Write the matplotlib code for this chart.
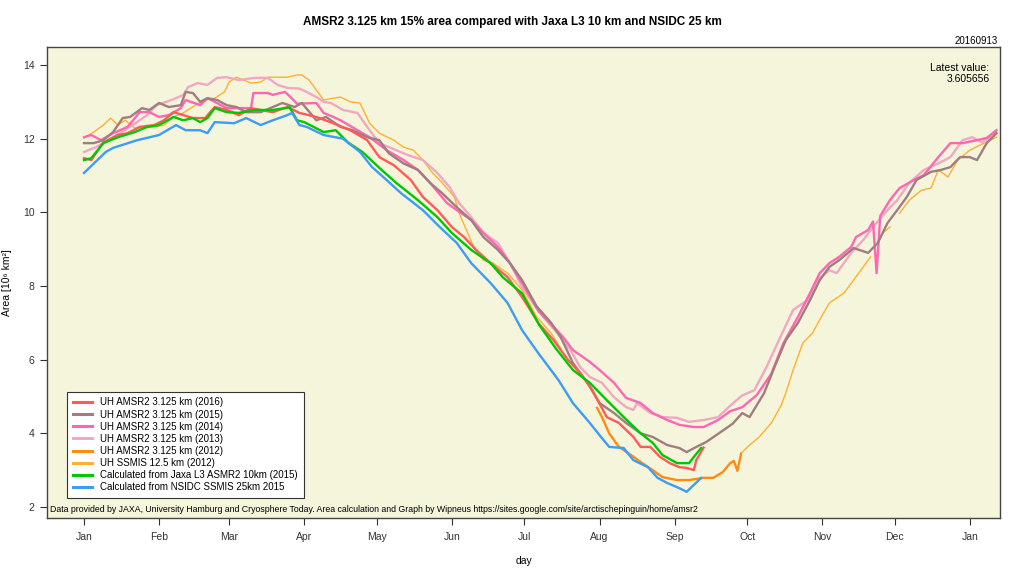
import numpy as np
import matplotlib
matplotlib.use("Agg")
import matplotlib.pyplot as plt

plt.rcParams['font.family'] = ['Liberation Sans', 'DejaVu Sans']

# ---------------- data (day of year, 0 = Jan 1) ----------------
month_ticks = [0, 31, 60, 91, 121, 152, 182, 213, 244, 274, 305, 335, 366]
month_labels = ["Jan", "Feb", "Mar", "Apr", "May", "Jun", "Jul", "Aug", "Sep", "Oct", "Nov", "Dec", "Jan"]
y_ticks = [2, 4, 6, 8, 10, 12, 14]

ssmis2012_days = [0, 4, 8, 11, 14, 17, 21, 25, 29, 33, 37, 41, 46, 50, 54, 58, 60, 63, 66, 69, 73, 76, 80, 84, 88, 90,
                  93, 96, 99, 103, 106, 110, 114, 118, 122, 128, 132, 136, 140, 144, 148, 153, 155, 158, 161, 165, 169,
                  175, 181, 187, 193, 197, 230,
                  272, 275, 279, 284, 288, 290, 293, 297, 301, 304, 308, 314, 318, 322, 325, 327, 330, 333, 335,
                  337, 341, 346, 350, 353, 357, 361, 366, 372, 377]
ssmis2012_vals = [12.02, 12.18, 12.37, 12.56, 12.37, 12.5, 12.29, 12.29, 12.32, 12.37, 12.59, 12.7, 12.91, 13.05, 13.1,
                  13.27, 13.54, 13.67, 13.59, 13.51, 13.54, 13.67, 13.67, 13.67, 13.73, 13.73, 13.59, 13.32, 13.05,
                  13.1, 13.13, 13.0, 12.97, 12.42, 12.15, 11.96, 11.77, 11.69, 11.42, 11.07, 10.8, 10.42, 9.98, 9.52,
                  9.06, 8.7, 8.62, 8.35, 7.89, 7.16, 6.72, 6.3, np.nan,
                  3.49, 3.68, 3.9, 4.28, 4.75, 5.1, 5.72, 6.45, 6.72, 7.08, 7.54, 7.81, 8.16, 8.52, 8.79, np.nan,
                  9.44, 9.6, np.nan, 9.98, 10.33, 10.6, 10.66, 11.15, 10.96, 11.42, 11.69, 11.88, 12.04]

amsr2013_days = [0, 5, 12, 19, 26, 30, 34, 38, 41, 43, 47, 51, 55, 59, 64, 70, 76, 80, 84, 89, 92, 96, 99, 102, 107, 113,
                 117, 122, 126, 134, 140, 146, 151, 155, 160, 165, 171, 176, 181, 188, 196, 201, 205, 209, 214, 219,
                 224, 227, 228.5, 234, 239, 245, 250, 256, 262, 267, 272, 277, 282, 288, 293, 299, 303, 308, 311,
                 317, 322, 326, 332, 336, 341, 347, 353, 358, 363, 367, 371, 377]
amsr2013_vals = [11.64, 11.77, 12.04, 12.32, 12.64, 12.91, 13.0, 13.1, 13.19, 13.4, 13.51, 13.46, 13.65, 13.67, 13.59,
                 13.65, 13.65, 13.46, 13.38, 13.36, 13.27, 13.13, 13.0, 12.97, 12.78, 12.7, 12.32, 11.88, 11.77,
                 11.55, 11.42, 11.07, 10.69, 10.25, 9.87, 9.44, 9.17, 8.62, 7.97, 7.3, 6.68, 6.26, 5.8, 5.53, 5.37,
                 4.98, 4.71, 4.63, 4.82, 4.55, 4.44, 4.42, 4.31, 4.36, 4.44, 4.75, 5.03, 5.17, 5.8, 6.65, 7.35, 7.62,
                 8.16, 8.43, 8.35, 8.9, 9.25, 9.6, 10.06, 10.33, 10.8, 11.15, 11.33, 11.5, 11.96, 12.04, 11.9, 12.15]

amsr2014_days = [0, 3, 7, 12, 18, 23, 27, 31, 35, 40, 42, 48, 51, 54, 59, 64, 69, 70, 76, 78, 83, 85, 88, 96, 99, 103,
                 106, 113, 118, 125, 132, 138, 143, 150, 154, 160, 165, 171, 176, 181, 188, 194, 198, 202, 209, 213,
                 219, 224, 230, 235, 241, 246, 252, 256, 262, 267, 272, 278, 284, 289, 295, 300, 304, 308, 312, 317,
                 319, 324, 326, 327.5, 329, 333, 337, 343, 347, 353, 358, 363, 369, 373, 377]
amsr2014_vals = [12.04, 12.1, 11.96, 12.15, 12.32, 12.72, 12.72, 12.59, 12.64, 12.83, 13.05, 12.91, 13.1, 13.0, 12.83,
                 12.83, 12.83, 13.24, 13.24, 13.19, 13.27, 13.15, 12.95, 12.97, 12.7, 12.59, 12.5, 12.23, 12.04,
                 11.69, 11.42, 11.15, 10.8, 10.25, 10.06, 9.79, 9.44, 9.06, 8.62, 8.08, 7.3, 6.89, 6.61, 6.26, 5.94,
                 5.72, 5.37, 4.96, 4.82, 4.55, 4.36, 4.23, 4.17, 4.17, 4.36, 4.6, 4.71, 5.04, 5.62, 6.45, 7.16, 7.81,
                 8.35, 8.62, 8.79, 9.06, 9.33, 9.52, 9.75, 8.35, 9.9, 10.33, 10.66, 10.88, 11.01, 11.5, 11.88, 11.88,
                 11.96, 12.02, 12.23]

amsr2015_days = [0, 4, 8, 12, 16, 19, 24, 27, 31, 35, 40, 42, 45, 48, 51, 55, 59, 63, 67, 73, 78, 82, 87, 90, 96, 100,
                 106, 111, 117, 122, 126, 132, 138, 143, 148, 154, 160, 165, 171, 176, 181, 187, 193, 197, 202, 208,
                 213, 219, 224, 230, 235, 241, 246, 249, 253, 257, 263, 268, 272, 275, 281, 286, 290, 295, 300, 304,
                 308, 312, 318, 324, 328, 332, 336, 340, 344, 350, 354, 358, 362, 366, 369, 373, 377]
amsr2015_vals = [11.88, 11.88, 11.96, 12.18, 12.56, 12.59, 12.83, 12.78, 12.97, 12.86, 12.91, 13.27, 13.24, 13.0, 13.1,
                 13.05, 12.91, 12.86, 12.72, 12.72, 12.86, 12.97, 12.86, 12.97, 12.5, 12.59, 12.32, 12.23, 12.04,
                 11.96, 11.6, 11.33, 11.15, 10.8, 10.52, 10.14, 9.79, 9.33, 8.98, 8.62, 8.16, 7.45, 7.0, 6.61, 5.91,
                 5.37, 4.82, 4.55, 4.28, 4.0, 3.9, 3.68, 3.6, 3.49, 3.63, 3.76, 4.03, 4.26, 4.55, 4.44, 5.09, 5.91,
                 6.53, 7.0, 7.62, 8.16, 8.52, 8.7, 9.03, 8.9, 9.17, 9.71, 10.06, 10.42, 10.88, 11.1, 11.15, 11.23,
                 11.5, 11.5, 11.42, 11.88, 12.15]

amsr2012_days = [212, 214, 217, 221, 226, 230, 235, 239, 245, 250, 256, 260, 264, 267, 268.5, 270, 271.5]
amsr2012_vals = [4.69, 4.44, 4.0, 3.63, 3.41, 3.22, 3.0, 2.81, 2.73, 2.73, 2.79, 2.79, 2.95, 3.19, 3.25, 2.98, 3.45]

amsr2016_days = [0, 3, 8, 14, 18, 23, 29, 33, 37, 41, 45, 50, 54, 59, 64, 69, 73, 78, 84, 89, 96, 103, 110, 117, 122,
                 128, 135, 140, 146, 152, 157, 162, 168, 175, 181, 188, 194, 200, 205, 210, 216, 221, 227, 230, 234,
                 238, 242, 246, 249, 252, 253, 256]
amsr2016_vals = [11.47, 11.42, 11.9, 12.1, 12.15, 12.32, 12.37, 12.5, 12.72, 12.64, 12.56, 12.56, 12.86, 12.78, 12.64,
                 12.83, 12.78, 12.72, 12.86, 12.7, 12.59, 12.42, 12.23, 11.96, 11.5, 11.28, 10.88, 10.42, 10.06, 9.6,
                 9.33, 8.98, 8.62, 8.24, 7.7, 6.97, 6.53, 5.99, 5.64, 5.18, 4.44, 4.28, 3.9, 3.63, 3.63, 3.36, 3.19,
                 3.08, 3.06, 3.0, 3.27, 3.61]

jaxa2015_days = [0, 3, 8, 14, 21, 26, 31, 37, 41, 45, 48, 51, 54, 59, 64, 70, 78, 85, 88, 91, 99, 104, 109, 115, 123,
                 129, 138, 146, 152, 160, 168, 173, 181, 188, 195, 202, 209, 216, 223, 230, 235, 239, 245, 250, 252,
                 255]
jaxa2015_vals = [11.42, 11.47, 11.88, 12.04, 12.18, 12.32, 12.37, 12.59, 12.5, 12.56, 12.45, 12.56, 12.83, 12.72, 12.7,
                 12.78, 12.78, 12.85, 12.5, 12.45, 12.18, 12.23, 11.9, 11.64, 11.15, 10.8, 10.33, 9.87, 9.44, 8.98,
                 8.62, 8.24, 7.8, 6.95, 6.3, 5.72, 5.37, 4.9, 4.44, 4.0, 3.74, 3.41, 3.19, 3.19, 3.36, 3.6]

nsidc2015_days = [0, 9, 12, 22, 31, 38, 42, 48, 51, 54, 62, 67, 73, 78, 84, 86, 89, 92, 99, 107, 114, 119, 125, 131,
                  140, 147, 154, 160, 168, 175, 181, 188, 196, 202, 209, 213, 217, 223, 227, 233, 237, 241, 246, 249,
                  252, 255]
nsidc2015_vals = [11.07, 11.64, 11.75, 11.96, 12.1, 12.37, 12.23, 12.23, 12.15, 12.45, 12.42, 12.56, 12.37, 12.5,
                  12.64, 12.7, 12.37, 12.32, 12.1, 12.0, 11.64, 11.23, 10.88, 10.52, 10.06, 9.6, 9.17, 8.62, 8.08,
                  7.54, 6.8, 6.15, 5.45, 4.82, 4.28, 3.95, 3.63, 3.6, 3.27, 3.08, 2.79, 2.65, 2.51, 2.41, 2.6, 2.79]

series_labels = ["UH AMSR2 3.125 km (2016)", "UH AMSR2 3.125 km (2015)", "UH AMSR2 3.125 km (2014)",
                 "UH AMSR2 3.125 km (2013)", "UH AMSR2 3.125 km (2012)", "UH SSMIS 12.5 km (2012)",
                 "Calculated from Jaxa L3 ASMR2 10km (2015)", "Calculated from NSIDC SSMIS 25km 2015"]
latest_value = 3.605656

# ---------------- figure ----------------
fig = plt.figure(figsize=(10.24, 5.76), dpi=100)
ax = fig.add_axes([0.0459, 0.1007, 0.9307, 0.8177])
ax.set_facecolor('#F5F5DC')

c_2016 = '#FF5A5A'
c_2015 = '#A07E80'
c_2014 = '#FF66B3'
c_2013 = '#F0A8C4'
c_2012 = '#FF8C10'
c_ssmis = '#FFB030'
c_jaxa = '#00C800'
c_nsidc = '#3D9CF5'

h_ssmis, = ax.plot(ssmis2012_days, ssmis2012_vals, color=c_ssmis, lw=1.0)
h13, = ax.plot(amsr2013_days, amsr2013_vals, color=c_2013, lw=1.7)
h14, = ax.plot(amsr2014_days, amsr2014_vals, color=c_2014, lw=1.7)
h15, = ax.plot(amsr2015_days, amsr2015_vals, color=c_2015, lw=1.7)
h12, = ax.plot(amsr2012_days, amsr2012_vals, color=c_2012, lw=1.7)
h16, = ax.plot(amsr2016_days, amsr2016_vals, color=c_2016, lw=1.7)
hj, = ax.plot(jaxa2015_days, jaxa2015_vals, color=c_jaxa, lw=1.7)
hn, = ax.plot(nsidc2015_days, nsidc2015_vals, color=c_nsidc, lw=1.7)

ax.set_xlim(-15.3, 378.5)
ax.set_ylim(1.70, 14.49)
ax.set_xticks(month_ticks)
ax.set_xticklabels(month_labels, fontsize=7.5)
ax.set_yticks(y_ticks)
ax.set_yticklabels([str(v) for v in y_ticks], fontsize=7.5)
ax.tick_params(axis='both', direction='out', length=5, width=0.8, colors='#333333')
ax.tick_params(axis='x', pad=5)
ax.tick_params(axis='y', pad=4)
for s in ax.spines.values():
    s.set_color('#444444')
    s.set_linewidth(1.0)

ax.set_xlabel('day', fontsize=7.5, labelpad=10)
ax.set_ylabel('Area [10⁶ km²]', fontsize=7.5, labelpad=10)
ax.yaxis.set_label_coords(-0.037, 0.5)

fig.text(0.5, 0.962, 'AMSR2 3.125 km 15% area compared with Jaxa L3 10 km and NSIDC 25 km',
         ha='center', va='center', fontsize=8.5, fontweight='bold')
fig.text(0.974, 0.929, '20160913', ha='right', va='center', fontsize=7)
ax.text(0.989, 0.965, 'Latest value:\n%.6f' % latest_value, transform=ax.transAxes,
        ha='right', va='top', fontsize=7.5, linespacing=1.1)
ax.text(0.003, 0.008,
        'Data provided by JAXA, University Hamburg and Cryosphere Today. Area calculation and Graph by Wipneus '
        'https://sites.google.com/site/arctischepinguin/home/amsr2',
        transform=ax.transAxes, ha='left', va='bottom', fontsize=6.3)

handles = [h16, h15, h14, h13, h12, h_ssmis, hj, hn]
leg = ax.legend(handles, series_labels, loc='lower left', bbox_to_anchor=(0.021, 0.042),
                fontsize=7.0, frameon=True, fancybox=False, edgecolor='#333333', facecolor='white',
                framealpha=1.0, handlelength=2.0, handletextpad=0.8, labelspacing=0.22, borderpad=0.6,
                borderaxespad=0)
leg.get_frame().set_linewidth(0.8)
for lh in leg.get_lines():
    lh.set_linewidth(2.2)

fig.savefig('out.png', dpi=100, facecolor='white')
